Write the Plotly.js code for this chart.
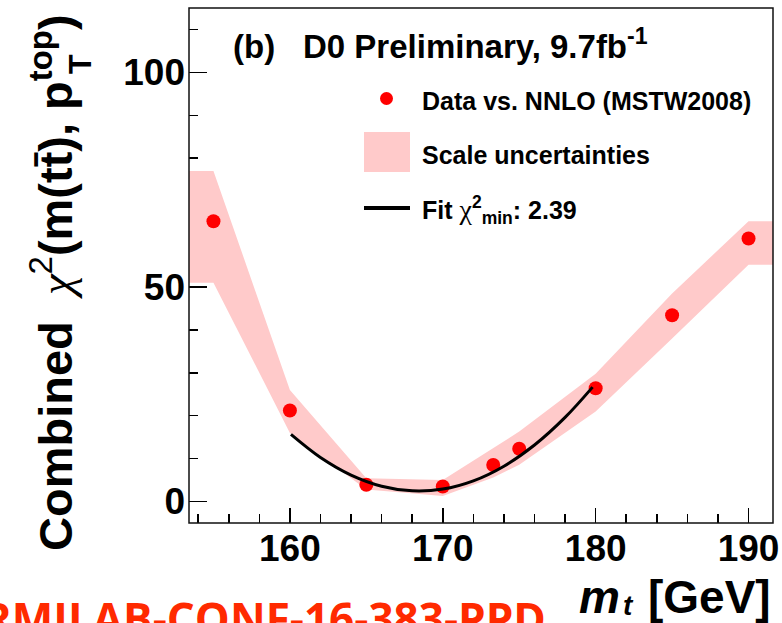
<!DOCTYPE html>
<html>
<head>
<meta charset="utf-8">
<script src="https://cdn.plot.ly/plotly-3.0.1.min.js"></script>
<style>
html,body{margin:0;padding:0;background:#fff;}
#chart{width:782px;height:623px;}
</style>
</head>
<body>
<div id="chart"></div>
<script>
// ---- data ----
const massPoints = [155, 160, 165, 170, 173.3, 175, 180, 185, 190];
const chi2Values = [65.3, 21.2, 3.9, 3.5, 8.5, 12.3, 26.4, 43.4, 61.3];

const bandMass  = [150, 155, 160, 165, 170, 173.3, 175, 180, 185, 190, 195];
const bandUpper = [77, 77, 26, 5.4, 5.0, 12.5, 16.3, 29.8, 48.5, 65.3, 65.3];
const bandLower = [51, 51, 16, 2.8, 1.3, 5.6, 8.6, 21, 38, 55.2, 55.2];

const fitMass = [160.07, 162, 164, 166, 168, 170, 172, 174, 176, 178, 179.8];
const fitChi2 = [15.65, 10.27, 6.17, 3.58, 2.49, 2.90, 4.82, 8.24, 13.17, 19.60, 26.66];

const xTickVals = [160, 170, 180, 190];
const yTickVals = [0, 50, 100];

// ---- layout helpers ----
const W = 782, H = 623;
const M = {l: 189, r: 9, t: 8, b: 100};
const PW = W - M.l - M.r, PH = H - M.t - M.b;
const px = x => (x - M.l) / PW;
const py = y => (H - M.b - y) / PH;

const FONT = 'Liberation Sans, Arial, sans-serif';

const traces = [
  {x: bandMass, y: bandLower, type: 'scatter', mode: 'lines',
   line: {width: 0, color: 'rgba(0,0,0,0)'}, hoverinfo: 'skip', showlegend: false},
  {x: bandMass, y: bandUpper, type: 'scatter', mode: 'lines', fill: 'tonexty',
   fillcolor: '#ffcaca', line: {width: 0, color: 'rgba(0,0,0,0)'},
   name: 'Scale uncertainties', showlegend: false},
  {x: massPoints, y: chi2Values, type: 'scatter', mode: 'markers',
   marker: {color: '#ff0000', size: 14}, name: 'Data vs. NNLO (MSTW2008)', showlegend: false},
  {x: fitMass, y: fitChi2, type: 'scatter', mode: 'lines',
   line: {color: '#000000', width: 3, shape: 'spline'}, name: 'Fit', showlegend: false}
];

const tickFont = {family: FONT, size: 37, color: '#000', weight: 'bold'};

const ann = [];
function txt(text, x, y, opts) {
  ann.push(Object.assign({xref: 'paper', yref: 'paper', x: px(x), y: py(y),
    text: text, showarrow: false, xanchor: 'left', yanchor: 'middle',
    font: {family: FONT, size: 25, color: '#000'}}, opts || {}));
}
// title
txt('<b>(b)</b>', 231, 46, {font: {family: FONT, size: 33, color: '#000'}});
txt('<b>D0 Preliminary, 9.7fb<sup>-1</sup></b>', 301, 44, {font: {family: FONT, size: 33, color: '#000'}});
// legend
txt('<b>Data vs. NNLO (MSTW2008)</b>', 420, 101);
txt('<b>Scale uncertainties</b>', 420, 155);
txt('<b>Fit </b><span style="font-family:Liberation Serif;font-size:28px">χ</span><sup><b>2</b></sup><sub><b>min</b></sub><b>: 2.39</b>', 420, 210);
// x axis title: m, subscript t, [GeV]
txt('<b><i>m</i></b>', 622, 597, {xanchor: 'right', font: {family: FONT, size: 46, color: '#000'}});
txt('<b><i>t</i></b>', 621, 623, {yanchor: 'bottom', font: {family: FONT, size: 28, color: '#000'}});
txt('<b>[GeV]</b>', 773, 597, {xanchor: 'right', font: {family: FONT, size: 46, color: '#000'}});
// y axis title
txt('<b>Combined</b>  <span style="font-family:Liberation Serif"><i>χ</i></span><sup>2</sup><b>(m(tt\u0304), p<sup>top</sup>)</b>', 52, 283,
    {xanchor: 'center', textangle: -90, font: {family: FONT, size: 47, color: '#000'}});
txt('<b>T</b>', 80, 64, {xanchor: 'center', textangle: -90, font: {family: FONT, size: 32, color: '#000'}});
// preprint number
txt('<b>FERMILAB-CONF-16-383-PPD</b>', 548, 586, {xanchor: 'right', yanchor: 'top',
    font: {family: 'Open Sans, sans-serif', size: 44, color: '#ff2a00'}});

const shapes = [
  {type: 'rect', xref: 'paper', yref: 'paper', x0: 0, x1: 1, y0: 0, y1: 1,
   line: {color: '#111', width: 1.5}, layer: 'above'},
  // legend symbols
  {type: 'circle', xref: 'paper', yref: 'paper', x0: px(380), x1: px(393), y0: py(92), y1: py(105),
   fillcolor: '#ff0000', line: {width: 0}},
  {type: 'rect', xref: 'paper', yref: 'paper', x0: px(364), x1: px(410), y0: py(132), y1: py(172),
   fillcolor: '#ffcaca', line: {width: 0}},
  {type: 'line', xref: 'paper', yref: 'paper', x0: px(364), x1: px(410), y0: py(208), y1: py(208),
   line: {color: '#000', width: 4}}
];

const layout = {
  width: W, height: H, margin: M, paper_bgcolor: '#fff', plot_bgcolor: '#fff',
  showlegend: false,
  xaxis: {range: [153.4, 191.6], tickvals: xTickVals, ticks: 'inside', ticklen: 15, tickwidth: 1.5,
          tickcolor: '#000', showgrid: false, zeroline: false, showline: false, layer: 'below traces',
          minor: {dtick: 2, tick0: 0, ticks: 'inside', ticklen: 9, tickwidth: 1.5, tickcolor: '#000', showgrid: false},
          tickfont: tickFont},
  yaxis: {range: [-5, 115], tickvals: yTickVals, ticks: 'inside', ticklen: 18, tickwidth: 1.5,
          tickcolor: '#000', showgrid: false, zeroline: false, showline: false, layer: 'below traces',
          ticklabelstandoff: 3,
          minor: {dtick: 10, tick0: 0, ticks: 'inside', ticklen: 9, tickwidth: 1.5, tickcolor: '#000', showgrid: false},
          tickfont: tickFont},
  annotations: ann,
  shapes: shapes
};

Plotly.newPlot('chart', traces, layout, {displayModeBar: false, staticPlot: true});
</script>
</body>
</html>
